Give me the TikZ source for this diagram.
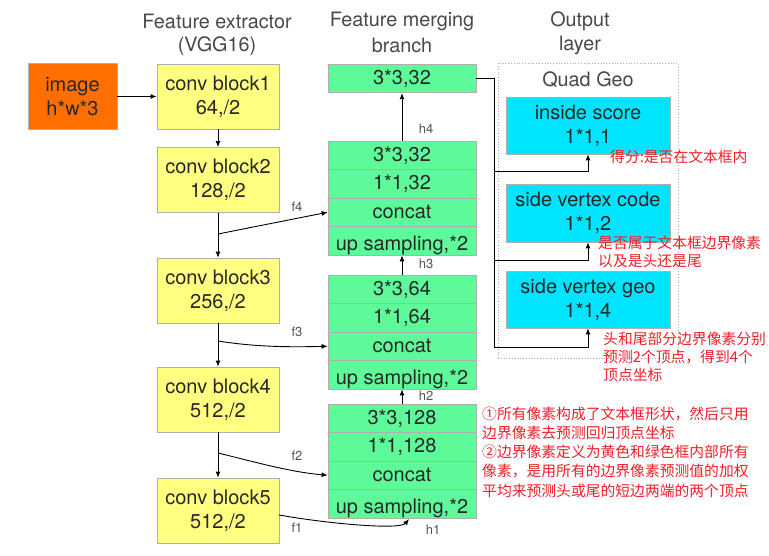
\documentclass[tikz,border=0pt]{standalone}
\usepackage{fontspec}
\setsansfont{TeX Gyre Heros}
\newfontfamily\cjk{Noto Sans CJK SC}
\usetikzlibrary{arrows.meta}
\definecolor{orangebox}{RGB}{255,111,0}
\definecolor{yellowbox}{RGB}{255,255,128}
\definecolor{greenbox}{RGB}{94,250,154}
\definecolor{cyanbox}{RGB}{0,229,255}
\definecolor{edge}{RGB}{175,175,175}
\definecolor{txt}{RGB}{40,40,40}
\definecolor{redtxt}{RGB}{240,30,40}
\begin{document}
\begin{tikzpicture}[x=1pt,y=-1pt,
 blk/.style={draw=edge, line width=0.8pt, inner sep=0pt, align=center, text=txt, font=\sffamily\fontsize{20}{24}\selectfont},
 yel/.style={blk, fill=yellowbox, minimum width=122pt, minimum height=65pt},
 row/.style={blk, fill=greenbox, minimum width=148pt, minimum height=28.5pt},
 cyb/.style={blk, fill=cyanbox, minimum width=164pt},
 rowtext/.style={inner sep=0pt, text=txt, font=\sffamily\fontsize{20}{24}\selectfont, anchor=base},
 ttl/.style={font=\sffamily\fontsize{19.8}{23}\selectfont, text=txt!85, inner sep=0pt},
 lbl/.style={font=\sffamily\fontsize{13}{15}\selectfont, text=txt!80, inner sep=0pt},
 note/.style={font=\cjk\fontsize{14.8}{18}\selectfont, text=redtxt, inner sep=0pt, anchor=west},
 arr/.style={-{Latex[length=6pt,width=5pt]}, line width=0.9pt, black},
 ln/.style={line width=0.9pt, black}]
\useasboundingbox (0,0) rectangle (769,555);

% titles
\node[ttl] (t1) at (217,21) {Feature extractor};
\node[ttl] (t2) at (217,46) {(VGG16)};
\node[ttl] (t3) at (402,21) {Feature merging};
\node[ttl] (t4) at (402,45) {branch};
\node[ttl] (t5) at (580,21) {Output};
\node[ttl] (t6) at (580,45) {layer};

% input
\node[blk, fill=orangebox, minimum width=89pt, minimum height=66pt] (img) at (72.5,96.5) {image\\h*w*3};

% VGG blocks
\node[yel] (cb1) at (218,96.5) {conv block1\\64,/2};
\node[yel] (cb2) at (218,180) {conv block2\\128,/2};
\node[yel] (cb3) at (218,290.5) {conv block3\\256,/2};
\node[yel] (cb4) at (218,399.5) {conv block4\\512,/2};
\node[yel] (cb5) at (218,510.5) {conv block5\\512,/2};

% merging branch
\node[row] (g0) at (402,78.5) {3*3,32};

\node[row] (a1) at (402,155.25) {3*3,32};
\node[row] (a2) at (402,183.75) {1*1,32};
\node[row] (a3) at (402,212.25) {concat};
\node[row] (a4) at (402,240.75) {};
\begin{scope}
\clip (a4.south west) rectangle (a4.north east);
\node[rowtext] (a4t) at (402,250.5) {up sampling,*2};
\end{scope}

\node[row] (b1) at (402,289.25) {3*3,64};
\node[row] (b2) at (402,317.75) {1*1,64};
\node[row] (b3) at (402,346.25) {concat};
\node[row] (b4) at (402,374.75) {};
\begin{scope}
\clip (b4.south west) rectangle (b4.north east);
\node[rowtext] (b4t) at (402,384) {up sampling,*2};
\end{scope}

\node[row] (c1) at (402,418.25) {3*3,128};
\node[row] (c2) at (402,446.75) {1*1,128};
\node[row] (c3) at (402,475.25) {concat};
\node[row] (c4) at (402,503.75) {};
\begin{scope}
\clip (c4.south west) rectangle (c4.north east);
\node[rowtext] (c4t) at (402,513) {up sampling,*2};
\end{scope}

% output layer
\node[draw=edge, dotted, line width=0.8pt, minimum width=180pt, minimum height=295pt, inner sep=0pt] (outbox) at (588,210.5) {};
\node[ttl] (qg) at (588,80) {Quad Geo};
\node[cyb, minimum height=57pt] (ins) at (588,125.5) {inside score\\1*1,1};
\node[cyb, minimum height=58pt] (code) at (588,213) {side vertex code\\1*1,2};
\node[cyb, minimum height=57pt] (geo) at (588,299.5) {side vertex geo\\1*1,4};

% connectors: extractor
\draw[arr] (img) -- (cb1);
\draw[arr] (cb1) -- (cb2);
\draw[arr] (cb2) -- (cb3);
\draw[arr] (cb3) -- (cb4);
\draw[arr] (cb4) -- (cb5);

\coordinate (f4s) at (218,234);
\coordinate (f3s) at (218,341);
\coordinate (f2s) at (218,453);
\coordinate (f1s) at (279,515);
\coordinate (h1e) at (409,519);
\draw[arr] (f4s) -- (a3.west);
\draw[arr] (f3s) .. controls (250,346) and (280,347.5) .. (b3.west);
\draw[arr] (f2s) .. controls (255,462) and (290,472) .. (c3.west);
\draw[arr] (f1s) .. controls (330,524) and (400,530) .. (h1e);

\draw[arr] (c1.north) -- (b4.south);
\draw[arr] (b1.north) -- (a4.south);
\draw[arr] (a1.north) -- (g0.south);

% output connectors
\coordinate (j0) at (494,78.5);
\coordinate (j1) at (494,171);
\coordinate (j2) at (494,260);
\coordinate (j3) at (494,347);
\draw[ln] (g0.east) -- (j0) -- (j3);
\draw[arr] (j1) -| (ins.south);
\draw[arr] (j2) -| (code.south);
\draw[arr] (j3) -| (geo.south);

% labels
\node[lbl] (lf4) at (297,207) {f4};
\node[lbl] (lf3) at (297,332) {f3};
\node[lbl] (lf2) at (297,456) {f2};
\node[lbl] (lf1) at (297,528) {f1};
\node[lbl] (lh1) at (433,530) {h1};
\node[lbl] (lh2) at (426,396) {h2};
\node[lbl] (lh3) at (426,264) {h3};
\node[lbl] (lh4) at (426,129) {h4};

% notes
\node[note] (n1) at (610,157) {得分:是否在文本框内};
\node[note] (n2) at (598,243) {是否属于文本框边界像素};
\node[note] (n3) at (598,261) {以及是头还是尾};
\node[note] (n4) at (603,339) {头和尾部分边界像素分别};
\node[note] (n5) at (603,357) {预测2个顶点，得到4个};
\node[note] (n6) at (603,375) {顶点坐标};
\node[note] (m1) at (482,414) {①所有像素构成了文本框形状，然后只用};
\node[note] (m2) at (482,433) {边界像素去预测回归顶点坐标};
\node[note] (m3) at (482,452) {②边界像素定义为黄色和绿色框内部所有};
\node[note] (m4) at (482,471.5) {像素，是用所有的边界像素预测值的加权};
\node[note] (m5) at (482,491) {平均来预测头或尾的短边两端的两个顶点};
\end{tikzpicture}
\end{document}
